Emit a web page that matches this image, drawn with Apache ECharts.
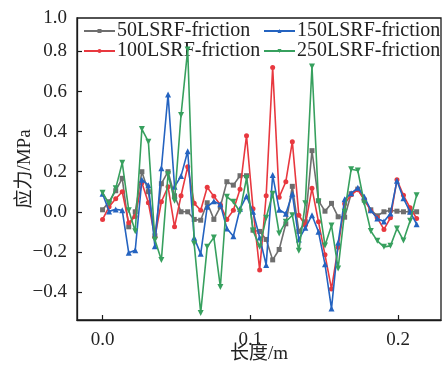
<!DOCTYPE html>
<html>
<head>
<meta charset="utf-8">
<script src="https://cdn.jsdelivr.net/npm/echarts@6/dist/echarts.min.js"></script>
<style>html,body{margin:0;padding:0;background:#fff;}#c{width:443px;height:367px;}</style>
</head>
<body>
<div id="c"></div>
<script>
const xValues = [0, 0.0044, 0.0089, 0.0133, 0.0177, 0.0221, 0.0266, 0.0310, 0.0354, 0.0398,
  0.0443, 0.0487, 0.0531, 0.0576, 0.0620, 0.0664, 0.0708, 0.0753, 0.0797, 0.0841,
  0.0885, 0.0930, 0.0974, 0.1018, 0.1063, 0.1107, 0.1151, 0.1195, 0.1240, 0.1284,
  0.1328, 0.1372, 0.1417, 0.1461, 0.1505, 0.1549, 0.1594, 0.1638, 0.1682, 0.1727,
  0.1771, 0.1815, 0.1859, 0.1904, 0.1948, 0.1992, 0.2036, 0.2081, 0.2125];
const s50 = [0.01, 0.05, 0.105, 0.167, -0.075, 0.0, 0.2, 0.1, -0.12, 0.14,
  0.2, 0.08, 0.0, 0.0, -0.038, -0.042, 0.045, -0.038, 0.025, 0.15,
  0.133, 0.18, 0.18, -0.092, -0.098, -0.138, -0.24, -0.188, -0.06, 0.127,
  -0.098, -0.05, 0.305, 0.055, 0.003, 0.042, -0.025, -0.027, 0.09, 0.113,
  0.058, 0.01, -0.02, 0.0, 0.008, 0.003, 0.0, 0.0, 0.0];
const s100 = [-0.038, 0.025, 0.065, 0.1, -0.055, -0.023, 0.145, 0.045, -0.127, 0.05,
  0.125, -0.075, 0.08, 0.225, 0.042, 0.008, 0.122, 0.077, 0.035, -0.038,
  0.008, 0.112, 0.38, 0.015, -0.29, 0.08, 0.72, 0.073, 0.15, 0.35,
  -0.017, -0.067, 0.117, -0.05, -0.215, -0.385, -0.177, 0.04, 0.085, 0.11,
  0.062, 0.005, -0.03, -0.088, -0.03, 0.16, 0.082, 0.02, -0.033];
const s150 = [0.09, 0.002, 0.012, 0.008, -0.205, -0.192, 0.16, 0.133, -0.172, 0.217,
  0.585, 0.125, 0.178, 0.302, -0.13, -0.21, 0.025, 0.052, 0.038, -0.083,
  -0.122, 0.015, 0.078, 0.0, -0.128, -0.265, 0.183, 0.01, -0.01, 0.09,
  -0.138, -0.08, -0.017, -0.1, -0.262, -0.483, -0.155, 0.062, 0.092, 0.12,
  0.075, 0.008, -0.033, -0.048, -0.008, 0.155, 0.067, 0.0, -0.062];
const s250 = [0.095, 0.04, 0.117, 0.245, 0.008, -0.097, 0.413, 0.35, -0.14, -0.24,
  0.187, 0.055, 0.483, 0.81, -0.16, -0.505, -0.175, -0.128, -0.375, 0.075,
  0.05, 0.0, 0.168, -0.093, -0.175, -0.03, 0.09, -0.108, -0.05, -0.017,
  -0.195, 0.042, 0.725, 0.05, -0.168, -0.068, -0.283, 0.0, 0.212, 0.206,
  0.042, -0.096, -0.145, -0.175, -0.17, -0.083, -0.143, -0.045, 0.083];
const seriesNames = ['50LSRF-friction', '100LSRF-friction', '150LSRF-friction', '250LSRF-friction'];
const xTicks = [0, 0.1, 0.2];
const yTicks = [-0.4, -0.2, 0, 0.2, 0.4, 0.6, 0.8];
const xName = '长度/m';
const yName = '应力/MPa';

const FONT = '"Liberation Serif", "Noto Sans CJK SC", serif';
const colors = ['#6e6e6e', '#e8383f', '#2463c0', '#37a05e'];
const symbols = ['rect', 'circle', 'triangle', 'triangle'];
const rotates = [0, 0, 0, 180];
const sizes = [5, 5, 6, 6];
const allData = [s50, s100, s150, s250];
const YMIN = -0.54, YMAX = 0.967;

const chart = echarts.init(document.getElementById('c'), null, {renderer: 'canvas'});
const fmtNum = v => {
  const s = Math.abs(v) < 1e-9 ? '0.0' : Math.abs(v).toFixed(1);
  return (v < -1e-9 ? '\u2212' : '') + s;
};
const legendBase = {orient: 'vertical', top: 16, itemGap: 0, itemWidth: 31, itemHeight: 5,
  textStyle: {fontFamily: FONT, fontSize: 20, color: '#222', padding: [0, 0, 0, -3], lineHeight: 20}};
chart.setOption({
  animation: false,
  color: colors,
  grid: {left: 77, right: 2, top: 18, bottom: 47, show: true, borderColor: '#1a1a1a', borderWidth: 1.3,
    backgroundColor: 'transparent', containLabel: false, outerBoundsMode: 'none'},
  legend: [
    Object.assign({data: [seriesNames[0], seriesNames[1]], left: 78}, legendBase),
    Object.assign({data: [seriesNames[2], seriesNames[3]], left: 258}, legendBase)
  ],
  xAxis: {
    type: 'value', min: -0.0173, max: 0.229,
    name: xName, nameLocation: 'middle', nameGap: 25, nameMoveOverlap: false,
    nameTextStyle: {fontFamily: FONT, fontSize: 19, color: '#222'},
    axisLine: {show: true, onZero: false, lineStyle: {color: '#1a1a1a', width: 1.3}},
    axisTick: {show: true, inside: true, length: 5, customValues: xTicks, lineStyle: {color: '#1a1a1a', width: 1.2}},
    axisLabel: {customValues: xTicks, formatter: v => fmtNum(v), fontFamily: FONT, fontSize: 19, color: '#222', margin: 11},
    splitLine: {show: false}
  },
  yAxis: {
    type: 'value', min: YMIN, max: YMAX,
    name: yName, nameLocation: 'middle', nameGap: 42, nameMoveOverlap: false,
    nameTextStyle: {fontFamily: FONT, fontSize: 19, color: '#222'},
    axisLine: {show: true, onZero: false, lineStyle: {color: '#1a1a1a', width: 1.3}},
    axisTick: {show: true, inside: true, length: 5, customValues: yTicks, lineStyle: {color: '#1a1a1a', width: 1.2}},
    axisLabel: {customValues: yTicks.concat([YMAX]), formatter: v => (v > 0.9 ? '1.0' : fmtNum(v)), fontFamily: FONT, fontSize: 19, color: '#222', margin: 10},
    splitLine: {show: false}
  },
  series: allData.map((arr, k) => ({
    name: seriesNames[k],
    type: 'line',
    data: xValues.map((x, i) => [x, arr[i]]),
    symbol: symbols[k],
    symbolRotate: rotates[k],
    symbolSize: sizes[k],
    showSymbol: true,
    lineStyle: {width: 1.6, color: colors[k]},
    itemStyle: {color: colors[k]},
    z: 2 + k
  }))
});
</script>
</body>
</html>
